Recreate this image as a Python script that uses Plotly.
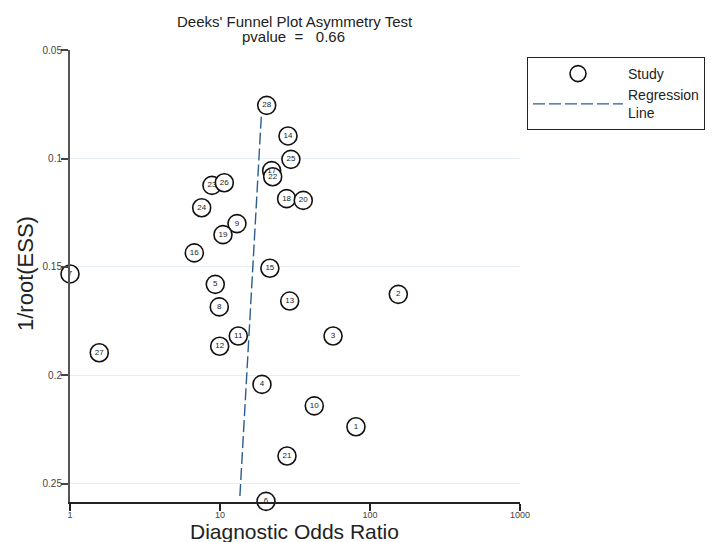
import plotly.graph_objects as go

study_ids = [str(i) for i in range(1, 29)]
dor = [80.6, 154.4, 56.7, 19.05, 9.30, 20.26, 1.0, 9.89, 12.98, 42.5,
       13.24, 9.95, 29.15, 28.4, 21.5, 6.74, 22.1, 27.8, 10.47, 35.9,
       27.97, 22.45, 8.84, 7.55, 29.7, 10.68, 1.567, 20.48]
inv_root_ess = [0.2236, 0.1626, 0.1818, 0.2041, 0.1580, 0.2580, 0.1532, 0.1684, 0.1300, 0.2140,
                0.1818, 0.1865, 0.1657, 0.0896, 0.1506, 0.1435, 0.1056, 0.1185, 0.1351, 0.1193,
                0.2371, 0.1084, 0.1124, 0.1227, 0.1004, 0.1112, 0.1895, 0.0755]

regression_x = [18.85, 13.53]
regression_y = [0.0807, 0.2574]

x_ticks = [1, 10, 100, 1000]
x_tick_labels = ["1", "10", "100", "1000"]
y_ticks = [0.05, 0.1, 0.15, 0.2, 0.25]
y_tick_labels = ["0.05", "0.1", "0.15", "0.2", "0.25"]

FONT = "Arial, Liberation Sans, sans-serif"
W, H = 712, 542
ML, MR, MT, MB = 70, 192, 50, 40
PW, PH = W - ML - MR, H - MT - MB


def px_x(px):
    return (px - ML) / PW


def px_y(py):
    return 1 - (py - MT) / PH


fig = go.Figure()

fig.add_trace(go.Scatter(
    x=regression_x, y=regression_y, mode="lines",
    name="Regression<br>Line",
    line=dict(color="#2c5d8f", width=1.4, dash="12px,4px"),
    cliponaxis=False,
))

fig.add_trace(go.Scatter(
    x=dor, y=inv_root_ess, mode="markers",
    name="Study",
    marker=dict(symbol="circle", size=18, color="white",
                line=dict(color="#111111", width=1.6)),
    cliponaxis=False,
))

fig.add_trace(go.Scatter(
    x=dor, y=inv_root_ess, mode="text", text=study_ids,
    textposition="middle center",
    textfont=dict(family=FONT, size=8, color="#222222"),
    showlegend=False, cliponaxis=False, hoverinfo="skip",
))

ann_common = dict(xref="paper", yref="paper", showarrow=False)
fig.add_annotation(text="Deeks' Funnel Plot Asymmetry Test", x=px_x(295), y=px_y(22),
                   xanchor="center", yanchor="middle",
                   font=dict(family=FONT, size=15, color="#222222"), **ann_common)
fig.add_annotation(text="pvalue  =   0.66", x=px_x(293), y=px_y(37),
                   xanchor="center", yanchor="middle",
                   font=dict(family=FONT, size=15, color="#222222"), **ann_common)
fig.add_annotation(text="Diagnostic Odds Ratio", x=px_x(294), y=px_y(531),
                   xanchor="center", yanchor="middle",
                   font=dict(family=FONT, size=21, color="#222222"), **ann_common)
fig.add_annotation(text="1/root(ESS)", x=px_x(25), y=px_y(274), textangle=-90,
                   xanchor="center", yanchor="middle",
                   font=dict(family=FONT, size=22, color="#222222"), **ann_common)

fig.update_layout(
    width=W, height=H,
    margin=dict(l=ML, r=MR, t=MT, b=MB, autoexpand=False),
    plot_bgcolor="white", paper_bgcolor="white",
    font=dict(family=FONT, color="#222222"),
    xaxis=dict(
        type="log", range=[0, 3],
        tickvals=x_ticks, ticktext=x_tick_labels,
        ticks="outside", ticklen=7, tickcolor="#222222", tickwidth=1.5,
        showline=True, linecolor="#222222", linewidth=1.5,
        showgrid=False, zeroline=False, automargin=False,
        ticklabelstandoff=-4,
        tickfont=dict(size=9, color="#444444"),
    ),
    yaxis=dict(
        range=[0.2583, 0.05],
        tickvals=y_ticks, ticktext=y_tick_labels,
        ticks="outside", ticklen=7, tickcolor="#444444", tickwidth=1.5,
        showline=True, linecolor="#555555", linewidth=2,
        showgrid=True, gridcolor="#e6eef5", gridwidth=1,
        zeroline=False, automargin=False,
        ticklabelstandoff=-3,
        tickfont=dict(size=10, color="#444444"),
    ),
    legend=dict(
        x=px_x(527), xanchor="left",
        y=px_y(57), yanchor="top",
        bgcolor="white", bordercolor="#222222", borderwidth=1,
        font=dict(family=FONT, size=14, color="#222222"),
        traceorder="reversed", itemwidth=90,
        tracegroupgap=0,
    ),
)

fig.write_html(
    "out.html",
    config={"displayModeBar": False},
    post_script="document.body.style.margin='0';document.body.style.overflow='hidden';",
)
